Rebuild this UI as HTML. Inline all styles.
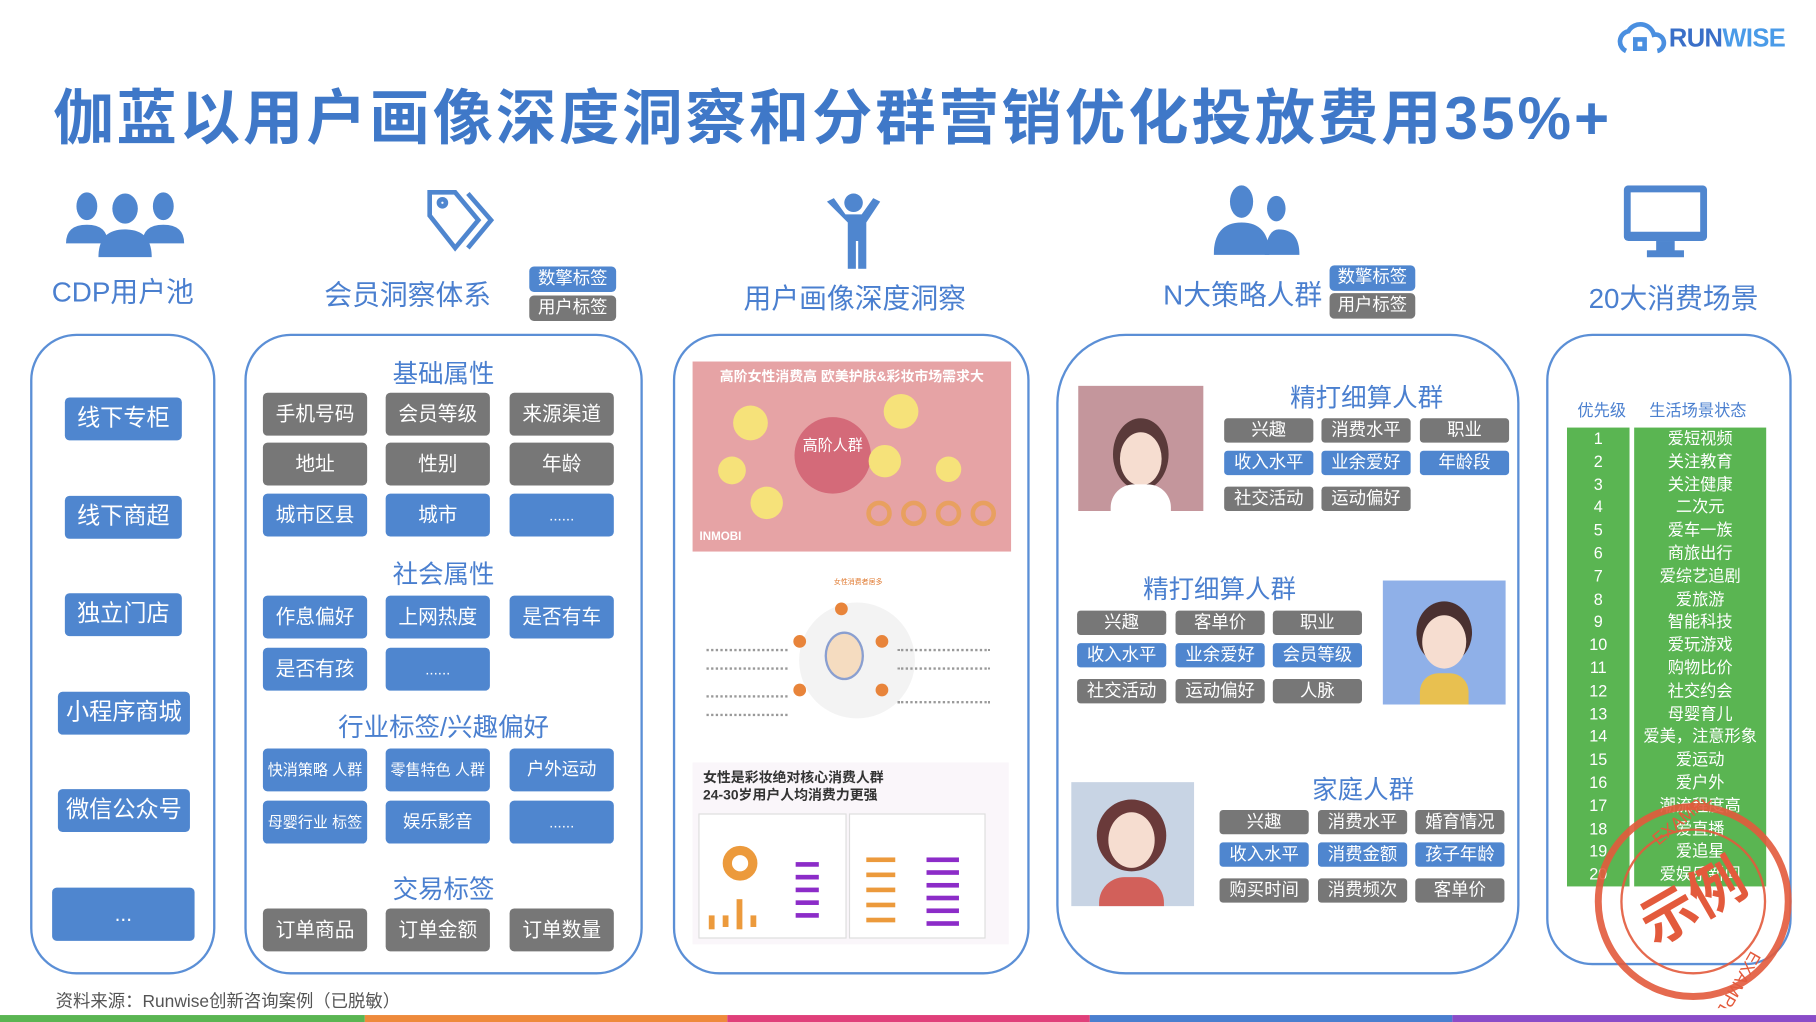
<!DOCTYPE html>
<html><head><meta charset="utf-8"><style>
html,body{margin:0;padding:0;background:#fff;overflow:hidden}
body{width:1816px;height:1022px;position:relative;font-family:"Liberation Sans","Noto Sans CJK SC",sans-serif}
#s{position:absolute;left:0;top:0;width:1568px;height:882px;transform:scale(1.15816,1.15873);transform-origin:0 0}
.a{position:absolute}
.p{position:absolute;border:2px solid #5b8fd6;border-radius:40px;box-sizing:border-box}
.b{position:absolute;color:#fff;text-align:center;border-radius:4px;font-size:17px;box-sizing:border-box}
.bl{background:#4f86cf}.gr{background:#777}
.h{position:absolute;color:#4a7fcf;font-size:24px;white-space:nowrap;text-align:center}
.st{position:absolute;color:#4a7fcf;font-size:22px;white-space:nowrap;text-align:center}
.t{position:absolute;color:#fff;text-align:center;border-radius:3px;font-size:15px;height:21px;line-height:21px;width:77px}
</style></head><body><div id="s">

<svg class="a" style="left:1396px;top:18px" width="44" height="32" viewBox="0 0 44 32"><path d="M8 26 a9 9 0 0 1 2-17 a12 12 0 0 1 22 3 a7 7 0 0 1 3 14" fill="none" stroke="#4a8fe0" stroke-width="4"/><path d="M16 16 h8 v8 h-8z" fill="none" stroke="#4a8fe0" stroke-width="4"/></svg>
<div class="a" style="left:1441px;top:20px;font-size:22px;font-weight:bold;color:#3a6fc8;letter-spacing:-0.5px">RUN<span style="color:#4a9be8">WISE</span></div>

<div class="a" style="left:46px;top:60px;font-size:52px;font-weight:bold;color:#3f78c8;white-space:nowrap;letter-spacing:2.6px">伽蓝以用户画像深度洞察和分群营销优化投放费用35%+</div>

<svg class="a" style="left:55px;top:162px" width="106" height="60" viewBox="0 0 106 60"><g fill="#4f86cf"><ellipse cx="20" cy="16" rx="9" ry="12"/><path d="M2 48 q0-16 18-16 q18 0 18 16z"/><ellipse cx="86" cy="16" rx="9" ry="12"/><path d="M68 48 q0-16 18-16 q18 0 18 16z"/><ellipse cx="53" cy="18" rx="11" ry="13"/><path d="M30 60 q0-24 23-24 q23 0 23 24z"/></g></svg>
<svg class="a" style="left:368px;top:163px" width="66" height="56" viewBox="0 0 66 56"><g fill="none" stroke="#4f86cf" stroke-width="4"><path d="M3 3 h22 l20 24 l-20 24 l-22-28z"/><path d="M36 4 l20 23 l-20 24"/><circle cx="14" cy="12" r="3"/></g></svg>
<svg class="a" style="left:712px;top:166px" width="50" height="66" viewBox="0 0 50 66"><g fill="#4f86cf"><circle cx="25" cy="9" r="8"/><path d="M2 8 l6-3 l10 14 h14 l10-14 l6 3 l-12 18 v40 h-7 v-24 h-2 v24 h-7 v-40z"/></g></svg>
<svg class="a" style="left:1048px;top:158px" width="74" height="64" viewBox="0 0 74 64"><g fill="#4f86cf"><ellipse cx="24" cy="16" rx="10" ry="14"/><path d="M0 62 q0-28 24-28 q24 0 24 28z"/><ellipse cx="54" cy="22" rx="8" ry="11"/><path d="M44 62 q2-22 12-22 q18 0 18 22z"/></g></svg>
<svg class="a" style="left:1402px;top:160px" width="72" height="64" viewBox="0 0 72 64"><g fill="#4f86cf"><rect x="0" y="0" width="72" height="48" rx="4"/><rect x="28" y="48" width="16" height="10"/><rect x="20" y="56" width="32" height="6"/></g><rect x="6" y="6" width="60" height="34" fill="#fff"/></svg>

<div class="h" style="left:26px;width:160px;top:232px">CDP用户池</div>
<div class="h" style="left:262px;width:180px;top:235px">会员洞察体系</div>
<div class="b bl" style="left:457px;top:230px;width:75px;height:22px;line-height:22px;font-size:15px">数擎标签</div>
<div class="b gr" style="left:457px;top:255px;width:75px;height:22px;line-height:22px;font-size:15px">用户标签</div>
<div class="h" style="left:600px;width:276px;top:238px">用户画像深度洞察</div>
<div class="h" style="left:990px;width:166px;top:235px">N大策略人群</div>
<div class="b bl" style="left:1148px;top:229px;width:74px;height:22px;line-height:22px;font-size:15px">数擎标签</div>
<div class="b gr" style="left:1148px;top:253px;width:74px;height:22px;line-height:22px;font-size:15px">用户标签</div>
<div class="h" style="left:1345px;width:200px;top:238px">20大消费场景</div>

<div class="p" style="left:26px;top:288px;width:160px;height:553px"></div>
<div class="p" style="left:211px;top:288px;width:344px;height:553px"></div>
<div class="p" style="left:581px;top:288px;width:308px;height:553px"></div>
<div class="p" style="left:912px;top:288px;width:400px;height:553px;border-radius:60px"></div>
<div class="p" style="left:1335px;top:288px;width:212px;height:545px"></div>

<div class="b bl" style="left:56px;top:343px;width:101px;height:37px;line-height:37px;font-size:20px">线下专柜</div>
<div class="b bl" style="left:56px;top:428px;width:101px;height:37px;line-height:37px;font-size:20px">线下商超</div>
<div class="b bl" style="left:56px;top:512px;width:101px;height:37px;line-height:37px;font-size:20px">独立门店</div>
<div class="b bl" style="left:50px;top:597px;width:114px;height:37px;line-height:37px;font-size:20px">小程序商城</div>
<div class="b bl" style="left:50px;top:681px;width:114px;height:37px;line-height:37px;font-size:20px">微信公众号</div>
<div class="b bl" style="left:45px;top:766px;width:123px;height:46px;line-height:46px;font-size:18px">...</div>

<div class="st" style="left:211px;width:344px;top:305px">基础属性</div>
<div class="b gr" style="left:227px;top:339px;width:90px;height:37px;line-height:37px">手机号码</div>
<div class="b gr" style="left:333px;top:339px;width:90px;height:37px;line-height:37px">会员等级</div>
<div class="b gr" style="left:440px;top:339px;width:90px;height:37px;line-height:37px">来源渠道</div>
<div class="b gr" style="left:227px;top:382px;width:90px;height:37px;line-height:37px">地址</div>
<div class="b gr" style="left:333px;top:382px;width:90px;height:37px;line-height:37px">性别</div>
<div class="b gr" style="left:440px;top:382px;width:90px;height:37px;line-height:37px">年龄</div>
<div class="b bl" style="left:227px;top:426px;width:90px;height:37px;line-height:37px">城市区县</div>
<div class="b bl" style="left:333px;top:426px;width:90px;height:37px;line-height:37px">城市</div>
<div class="b bl" style="left:440px;top:426px;width:90px;height:37px;line-height:37px;font-size:13px">......</div>
<div class="st" style="left:211px;width:344px;top:478px">社会属性</div>
<div class="b bl" style="left:227px;top:514px;width:90px;height:37px;line-height:37px">作息偏好</div>
<div class="b bl" style="left:333px;top:514px;width:90px;height:37px;line-height:37px">上网热度</div>
<div class="b bl" style="left:440px;top:514px;width:90px;height:37px;line-height:37px">是否有车</div>
<div class="b bl" style="left:227px;top:559px;width:90px;height:37px;line-height:37px">是否有孩</div>
<div class="b bl" style="left:333px;top:559px;width:90px;height:37px;line-height:37px;font-size:13px">......</div>
<div class="st" style="left:211px;width:344px;top:610px">行业标签/兴趣偏好</div>
<div class="b bl" style="left:227px;top:646px;width:90px;height:37px;line-height:37px;font-size:13px">快消策略 人群</div>
<div class="b bl" style="left:333px;top:646px;width:90px;height:37px;line-height:37px;font-size:13px">零售特色 人群</div>
<div class="b bl" style="left:440px;top:646px;width:90px;height:37px;line-height:37px;font-size:15px">户外运动</div>
<div class="b bl" style="left:227px;top:691px;width:90px;height:37px;line-height:37px;font-size:13px">母婴行业 标签</div>
<div class="b bl" style="left:333px;top:691px;width:90px;height:37px;line-height:37px;font-size:15px">娱乐影音</div>
<div class="b bl" style="left:440px;top:691px;width:90px;height:37px;line-height:37px;font-size:13px">......</div>
<div class="st" style="left:211px;width:344px;top:750px">交易标签</div>
<div class="b gr" style="left:227px;top:784px;width:90px;height:37px;line-height:37px">订单商品</div>
<div class="b gr" style="left:333px;top:784px;width:90px;height:37px;line-height:37px">订单金额</div>
<div class="b gr" style="left:440px;top:784px;width:90px;height:37px;line-height:37px">订单数量</div>

<div class="a" style="left:598px;top:312px;width:275px;height:164px;background:#e6a3a5;overflow:hidden">
 <div class="a" style="left:0;width:275px;top:4px;text-align:center;color:#fff;font-size:12px;font-weight:bold">高阶女性消费高 欧美护肤&amp;彩妆市场需求大</div>
 <div class="a" style="left:88px;top:48px;width:66px;height:66px;border-radius:50%;background:#d46a79;color:#fff;font-size:13px;text-align:center;line-height:50px">高阶人群</div>
 <div class="a" style="left:35px;top:38px;width:30px;height:30px;border-radius:50%;background:#f6e27a"></div>
 <div class="a" style="left:165px;top:28px;width:30px;height:30px;border-radius:50%;background:#f6e27a"></div>
 <div class="a" style="left:152px;top:72px;width:28px;height:28px;border-radius:50%;background:#f6e27a"></div>
 <div class="a" style="left:50px;top:108px;width:28px;height:28px;border-radius:50%;background:#f6e27a"></div>
 <div class="a" style="left:22px;top:82px;width:24px;height:24px;border-radius:50%;background:#f6e27a"></div>
 <div class="a" style="left:210px;top:82px;width:22px;height:22px;border-radius:50%;background:#f6e27a"></div>
 <div class="a" style="left:150px;top:120px;width:22px;height:22px;border-radius:50%;border:4px solid #e8a060;box-sizing:border-box"></div>
 <div class="a" style="left:180px;top:120px;width:22px;height:22px;border-radius:50%;border:4px solid #e8a060;box-sizing:border-box"></div>
 <div class="a" style="left:210px;top:120px;width:22px;height:22px;border-radius:50%;border:4px solid #e8a060;box-sizing:border-box"></div>
 <div class="a" style="left:240px;top:120px;width:22px;height:22px;border-radius:50%;border:4px solid #e8a060;box-sizing:border-box"></div>
 <div class="a" style="left:6px;top:146px;color:#fff;font-size:10px;font-weight:bold">INMOBI</div>
</div>
<div class="a" style="left:690px;top:520px;width:100px;height:100px;border-radius:50%;background:#f3f3f3"></div>
<div class="a" style="left:712px;top:545px;width:30px;height:38px;border-radius:50%;background:#f5dcc0;border:2px solid #8a9fd0"></div>
<div class="a" style="left:720px;top:497px;font-size:6px;color:#e07a30">女性消费者居多</div>
<div class="a" style="left:721px;top:520px;width:11px;height:11px;border-radius:50%;background:#e8843a"></div>
<div class="a" style="left:685px;top:548px;width:11px;height:11px;border-radius:50%;background:#e8843a"></div>
<div class="a" style="left:756px;top:548px;width:11px;height:11px;border-radius:50%;background:#e8843a"></div>
<div class="a" style="left:685px;top:590px;width:11px;height:11px;border-radius:50%;background:#e8843a"></div>
<div class="a" style="left:756px;top:590px;width:11px;height:11px;border-radius:50%;background:#e8843a"></div>
<div class="a" style="left:610px;top:560px;width:70px;height:14px;border-top:2px dotted #999;border-bottom:2px dotted #999"></div>
<div class="a" style="left:775px;top:560px;width:80px;height:14px;border-top:2px dotted #999;border-bottom:2px dotted #999"></div>
<div class="a" style="left:610px;top:600px;width:70px;height:14px;border-top:2px dotted #999;border-bottom:2px dotted #999"></div>
<div class="a" style="left:775px;top:605px;width:80px;height:8px;border-top:2px dotted #999"></div>
<div class="a" style="left:598px;top:658px;width:273px;height:157px;background:#faf6fa"></div>
<div class="a" style="left:607px;top:664px;font-size:12px;font-weight:bold;color:#333;line-height:15px">女性是彩妆绝对核心消费人群<br>24-30岁用户人均消费力更强</div>
<div class="a" style="left:603px;top:702px;width:126px;height:106px;background:#fff;border:1px solid #ddd"></div>
<div class="a" style="left:733px;top:702px;width:116px;height:106px;background:#fff;border:1px solid #ddd"></div>
<div class="a" style="left:624px;top:730px;width:30px;height:30px;border-radius:50%;border:8px solid #ec9a3c;box-sizing:border-box"></div>
<div class="a" style="left:612px;top:790px;width:5px;height:12px;background:#ec9a3c"></div>
<div class="a" style="left:624px;top:790px;width:5px;height:10px;background:#ec9a3c"></div>
<div class="a" style="left:636px;top:776px;width:5px;height:26px;background:#ec9a3c"></div>
<div class="a" style="left:648px;top:790px;width:5px;height:10px;background:#ec9a3c"></div>
<div class="a" style="left:687px;top:744px;width:20px;height:4px;background:#8c2cc8;box-shadow:0 11px 0 #8c2cc8,0 22px 0 #8c2cc8,0 33px 0 #8c2cc8,0 44px 0 #8c2cc8"></div>
<div class="a" style="left:748px;top:740px;width:25px;height:4px;background:#ec9a3c;box-shadow:0 13px 0 #ec9a3c,0 26px 0 #ec9a3c,0 39px 0 #ec9a3c,0 52px 0 #ec9a3c"></div>
<div class="a" style="left:800px;top:740px;width:28px;height:4px;background:#8c2cc8;box-shadow:0 11px 0 #8c2cc8,0 22px 0 #8c2cc8,0 33px 0 #8c2cc8,0 44px 0 #8c2cc8,0 55px 0 #8c2cc8"></div>

<div class="a" style="left:931px;top:333px;width:108px;height:108px;background:#c4969c;overflow:hidden">
 <div class="a" style="left:30px;top:28px;width:48px;height:62px;border-radius:50%;background:#5a3a3a"></div>
 <div class="a" style="left:36px;top:40px;width:36px;height:46px;border-radius:50%;background:#f6ddd0"></div>
 <div class="a" style="left:28px;top:85px;width:52px;height:40px;border-radius:20px 20px 0 0;background:#fff"></div>
</div>
<div class="st" style="left:1100px;width:160px;top:326px">精打细算人群</div>
<div class="t gr" style="left:1057px;top:361px">兴趣</div>
<div class="t gr" style="left:1141px;top:361px">消费水平</div>
<div class="t gr" style="left:1226px;top:361px">职业</div>
<div class="t bl" style="left:1057px;top:389px">收入水平</div>
<div class="t bl" style="left:1141px;top:389px">业余爱好</div>
<div class="t bl" style="left:1226px;top:389px">年龄段</div>
<div class="t gr" style="left:1057px;top:420px">社交活动</div>
<div class="t gr" style="left:1141px;top:420px">运动偏好</div>

<div class="st" style="left:973px;width:160px;top:491px">精打细算人群</div>
<div class="t gr" style="left:930px;top:527px">兴趣</div>
<div class="t gr" style="left:1015px;top:527px">客单价</div>
<div class="t gr" style="left:1099px;top:527px">职业</div>
<div class="t bl" style="left:930px;top:555px">收入水平</div>
<div class="t bl" style="left:1015px;top:555px">业余爱好</div>
<div class="t bl" style="left:1099px;top:555px">会员等级</div>
<div class="t gr" style="left:930px;top:586px">社交活动</div>
<div class="t gr" style="left:1015px;top:586px">运动偏好</div>
<div class="t gr" style="left:1099px;top:586px">人脉</div>
<div class="a" style="left:1194px;top:501px;width:106px;height:107px;background:#8fb0e8;overflow:hidden">
 <div class="a" style="left:29px;top:18px;width:48px;height:54px;border-radius:50%;background:#4a3030"></div>
 <div class="a" style="left:34px;top:30px;width:38px;height:46px;border-radius:50%;background:#f6ddd0"></div>
 <div class="a" style="left:32px;top:80px;width:42px;height:40px;border-radius:16px 16px 0 0;background:#e8c050"></div>
</div>

<div class="a" style="left:925px;top:675px;width:106px;height:107px;background:#c8d4e4;overflow:hidden">
 <div class="a" style="left:22px;top:15px;width:60px;height:62px;border-radius:50%;background:#6a3a3a"></div>
 <div class="a" style="left:32px;top:26px;width:40px;height:48px;border-radius:50%;background:#f6ddd0"></div>
 <div class="a" style="left:24px;top:82px;width:56px;height:40px;border-radius:22px 22px 0 0;background:#d2605a"></div>
</div>
<div class="st" style="left:1097px;width:160px;top:664px">家庭人群</div>
<div class="t gr" style="left:1053px;top:699px">兴趣</div>
<div class="t gr" style="left:1138px;top:699px">消费水平</div>
<div class="t gr" style="left:1222px;top:699px">婚育情况</div>
<div class="t bl" style="left:1053px;top:727px">收入水平</div>
<div class="t bl" style="left:1138px;top:727px">消费金额</div>
<div class="t bl" style="left:1222px;top:727px">孩子年龄</div>
<div class="t gr" style="left:1053px;top:758px">购买时间</div>
<div class="t gr" style="left:1138px;top:758px">消费频次</div>
<div class="t gr" style="left:1222px;top:758px">客单价</div>

<div class="a" style="left:1362px;top:344px;font-size:14px;color:#4a7fcf">优先级</div>
<div class="a" style="left:1424px;top:344px;font-size:14px;color:#4a7fcf">生活场景状态</div>
<div class="a" style="left:1353px;top:369px;width:172px;font-size:14px;color:#fff;line-height:19.8px">
<div style="display:flex"><div style="width:54px;background:#5ab552;text-align:center">1<br>2<br>3<br>4<br>5<br>6<br>7<br>8<br>9<br>10<br>11<br>12<br>13<br>14<br>15<br>16<br>17<br>18<br>19<br>20</div>
<div style="width:4px"></div>
<div style="width:114px;background:#5ab552;text-align:center;white-space:nowrap">爱短视频<br>关注教育<br>关注健康<br>二次元<br>爱车一族<br>商旅出行<br>爱综艺追剧<br>爱旅游<br>智能科技<br>爱玩游戏<br>购物比价<br>社交约会<br>母婴育儿<br>爱美，注意形象<br>爱运动<br>爱户外<br>潮流程度高<br>爱直播<br>爱追星<br>爱娱乐新闻</div></div></div>

<svg class="a" style="left:1372px;top:690px" width="180" height="180" viewBox="0 0 180 180">
<g fill="none" stroke="#e35a3c" opacity="0.9"><circle cx="90" cy="88" r="82" stroke-width="6"/><circle cx="90" cy="88" r="62" stroke-width="2"/></g>
<text x="90" y="105" text-anchor="middle" font-size="48" font-weight="bold" fill="#e35a3c" transform="rotate(-30 90 88)" font-family="Noto Sans CJK SC,sans-serif">示例</text>
<text x="60" y="40" font-size="15" fill="#e35a3c" transform="rotate(-40 60 40)" font-family="Liberation Sans">EXAMPLE</text>
<text x="140" y="130" font-size="15" fill="#e35a3c" transform="rotate(120 140 130)" font-family="Liberation Sans">EXAMPLE</text>
</svg>

<div class="a" style="left:48px;top:853px;font-size:15px;color:#555">资料来源：Runwise创新咨询案例（已脱敏）</div>
<div class="a" style="left:0;top:876px;width:315px;height:6px;background:#5ab552"></div>
<div class="a" style="left:315px;top:876px;width:313px;height:6px;background:#ee8a3c"></div>
<div class="a" style="left:628px;top:876px;width:313px;height:6px;background:#e0407a"></div>
<div class="a" style="left:941px;top:876px;width:313px;height:6px;background:#4a7fcf"></div>
<div class="a" style="left:1254px;top:876px;width:314px;height:6px;background:#8a4cc8"></div>
</div></body></html>
